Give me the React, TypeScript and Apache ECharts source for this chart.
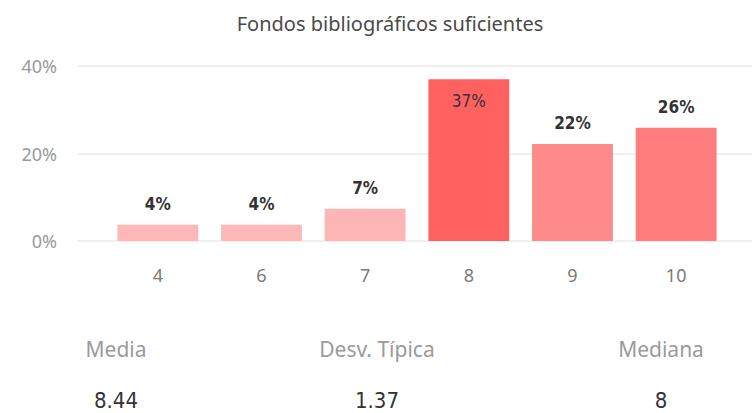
import React, { useEffect, useRef } from "react";
import * as echarts from "echarts";

const title = "Fondos bibliográficos suficientes";
const categories = ["4", "6", "7", "8", "9", "10"];
const values = [3.7, 3.7, 7.4, 37.0, 22.2, 25.9];
const barColors = ["#FFB8B8", "#FFB8B8", "#FFB5B5", "#FF6161", "#FF8A8A", "#FF7D7D"];
const yTicks = [0, 20, 40];
const statLabels = ["Media", "Desv. Típica", "Mediana"];
const statValues = ["8.44", "1.37", "8"];
const statCenters = [116, 377, 661];

export default function App() {
  const ref = useRef<HTMLDivElement>(null);
  useEffect(() => {
    if (!ref.current) return;
    const chart = echarts.init(ref.current, undefined, { renderer: "svg" });
    const yMin = yTicks[0];
    const yMax = yTicks[yTicks.length - 1];
    const interval = yTicks[1] - yTicks[0];
    const graphics: any[] = [
      {
        type: "text",
        x: 390,
        y: 23,
        style: {
          text: title,
          align: "center",
          verticalAlign: "middle",
          fontFamily: "Noto Sans",
          fontSize: 20,
          fill: "#4A4A4A",
        },
      },
    ];
    statLabels.forEach((s, i) => {
      graphics.push({
        type: "text",
        x: statCenters[i],
        y: 349,
        style: {
          text: s,
          align: "center",
          verticalAlign: "middle",
          fontFamily: "Noto Sans",
          fontSize: 21,
          fill: "#9A9A9A",
        },
      });
      graphics.push({
        type: "text",
        x: statCenters[i],
        y: 400,
        style: {
          text: statValues[i],
          align: "center",
          verticalAlign: "middle",
          fontFamily: "DejaVu Sans Condensed",
          fontSize: 22,
          fill: "#333333",
        },
      });
    });
    chart.setOption({
      animation: false,
      grid: [
        { left: 77, right: 0, top: 66, height: 175 },
        { left: 106, right: 24, top: 66, height: 175 },
      ],
      xAxis: [
        { type: "category", gridIndex: 0, data: categories, show: false },
        {
          type: "category",
          gridIndex: 1,
          data: categories,
          axisLine: { show: false },
          axisTick: { show: false },
          axisLabel: {
            margin: 25,
            fontFamily: "Noto Sans",
            fontSize: 18,
            color: "#7A7A7A",
          },
        },
      ],
      yAxis: [
        {
          type: "value",
          gridIndex: 0,
          min: yMin,
          max: yMax,
          interval,
          axisLine: { show: false },
          axisTick: { show: false },
          splitLine: { lineStyle: { color: "#EBEBEB", width: 1.5 } },
          axisLabel: {
            margin: 20,
            formatter: "{value}%",
            fontFamily: "Noto Sans",
            fontSize: 18,
            color: "#9A9A9A",
          },
        },
        {
          type: "value",
          gridIndex: 1,
          min: yMin,
          max: yMax,
          interval,
          show: false,
          splitLine: { show: false },
        },
      ],
      series: [
        {
          type: "bar",
          xAxisIndex: 1,
          yAxisIndex: 1,
          barCategoryGap: "22%",
          data: values.map((v, i) => {
            const inside = v > 30;
            return {
              value: v,
              itemStyle: { color: barColors[i] },
              label: {
                show: true,
                position: inside ? "insideTop" : "top",
                distance: inside ? 13 : 12,
                formatter: Math.round(v) + "%",
                fontFamily: "DejaVu Sans Condensed",
                fontWeight: inside ? "normal" : "bold",
                fontSize: 17,
                color: "#333333",
              },
            };
          }),
        },
      ],
      graphic: graphics,
    });
    return () => chart.dispose();
  }, []);
  return (
    <div
      ref={ref}
      style={{ position: "fixed", left: 0, top: 0, width: 752, height: 413, background: "#fff" }}
    />
  );
}
